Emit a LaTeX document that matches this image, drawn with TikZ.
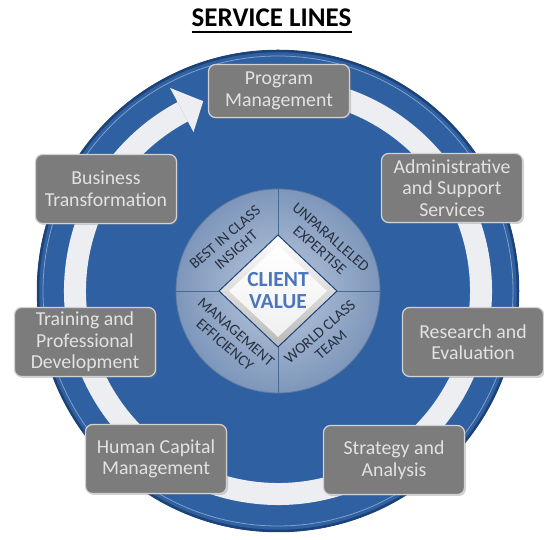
\documentclass[tikz,border=0pt]{standalone}
\usepackage{fontspec}
\setmainfont{Carlito}
\usetikzlibrary{calc,shadows}
\definecolor{ringblue}{RGB}{46,96,162}
\definecolor{rimblue}{RGB}{28,66,120}
\definecolor{discblue}{RGB}{132,158,196}
\definecolor{boxgray}{RGB}{124,124,124}
\definecolor{boxtext}{RGB}{226,226,226}
\definecolor{quadtext}{RGB}{38,48,64}
\definecolor{valueblue}{RGB}{76,118,188}
\definecolor{arrowwhite}{RGB}{236,238,242}

\begin{document}
\begin{tikzpicture}[x=1pt,y=1pt,
  service/.style={draw=gray!35,line width=1.2pt,fill=boxgray,rounded corners=7pt,
    minimum width=141pt,minimum height=69pt,align=center,text=boxtext,
    font=\fontsize{19.8}{21.5}\selectfont,
    drop shadow={opacity=0.35,shadow xshift=1.5pt,shadow yshift=-1.5pt}},
  quad/.style={align=center,text=quadtext,inner sep=0pt,font=\fontsize{15.3}{17}\selectfont}]
\useasboundingbox (0,0) rectangle (544,540);
\coordinate (hub) at (278,249);

\node[inner sep=0pt,anchor=base,font=\fontsize{27}{30}\selectfont\bfseries] (title) at (271.5,513) {SERVICE LINES};
\draw[line width=1.8pt] ([yshift=-5pt]title.base west) -- ([yshift=-5pt]title.base east);

% outer wheel
\fill[ringblue] (hub) circle (241);
\draw[rimblue,line width=2.5pt] (hub) circle (240);
\draw[ringblue!60!white,line width=0.8pt] (hub) circle (235);

% white cycle arrow
\fill[arrowwhite] ($(hub)+(80:214)$) arc[start angle=80,end angle=-242,radius=214]
  -- ($(hub)+(-242:192)$) arc[start angle=-242,end angle=80,radius=192] -- cycle;
\fill[arrowwhite] ($(hub)+(118:230)$) -- ($(hub)+(111.5:204)$) -- ($(hub)+(118:180)$) -- cycle;

% inner disc
\shade[inner color=discblue!55!white,outer color=discblue!95!black] (hub) circle (102);
\draw[rimblue!70,line width=0.8pt] (hub) circle (102);
\draw[rimblue!80,line width=0.8pt] ($(hub)+(0,102)$) -- ($(hub)+(0,-102)$);
\draw[rimblue!80,line width=0.8pt] ($(hub)+(-102,0)$) -- ($(hub)+(102,0)$);

\node[quad,rotate=41] (insight) at ($(hub)+(135:67)$) {BEST IN CLASS\\INSIGHT};
\node[quad,rotate=-41] (expertise) at ($(hub)+(45:67)$) {UNPARALLELED\\EXPERTISE};
\node[quad,rotate=-41] (efficiency) at ($(hub)+(225:67)$) {MANAGEMENT\\EFFICIENCY};
\node[quad,rotate=41] (team) at ($(hub)+(315:67)$) {WORLD CLASS\\TEAM};

% diamond
\shade[top color=white,bottom color=gray!55,draw=rimblue,line width=1pt]
  ($(hub)+(-59,0)$) -- ($(hub)+(0,56)$) -- ($(hub)+(59,0)$) -- ($(hub)+(0,-56)$) -- cycle;
\shade[top color=white,bottom color=gray!12]
  ($(hub)+(-49,0)$) -- ($(hub)+(0,46)$) -- ($(hub)+(49,0)$) -- ($(hub)+(0,-46)$) -- cycle;
\node[align=center,text=valueblue,font=\fontsize{21.5}{22}\selectfont\bfseries] (value) at (hub) {CLIENT\\VALUE};

% service boxes
\node[service,minimum height=53pt] (program) at (279,449) {Program\\Management};
\node[service] (admin) at (452,352) {Administrative\\and Support\\Services};
\node[service] (research) at (473,198) {Research and\\Evaluation};
\node[service] (strategy) at (394,80) {Strategy and\\Analysis};
\node[service] (human) at (156,81) {Human Capital\\Management};
\node[service] (training) at (85,198) {Training and\\Professional\\Development};
\node[service] (business) at (106,351) {Business\\Transformation};
\end{tikzpicture}
\end{document}
